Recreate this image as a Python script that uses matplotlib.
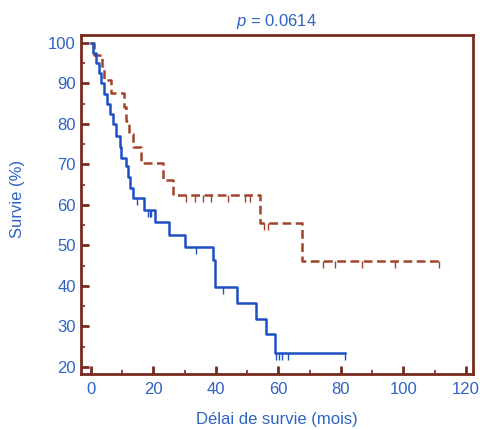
import numpy as np
import matplotlib
matplotlib.use("Agg")
import matplotlib.pyplot as plt
from matplotlib.ticker import MultipleLocator

# Kaplan-Meier curves (months, survival %)
blue_times = [0.8, 1.7, 2.6, 3.4, 4.3, 5.1, 6.0, 7.0, 8.2, 9.2, 9.8, 11.3, 12.0, 12.6,
              13.4, 17.0, 20.5, 25.1, 30.1, 39.1, 39.8, 46.8, 53.0, 55.9, 58.9]
blue_surv = [97.5, 95.0, 92.5, 90.0, 87.5, 85.0, 82.5, 80.0, 77.0, 74.4, 71.5, 69.5, 67.0,
             64.1, 61.6, 58.7, 55.8, 52.6, 49.7, 46.4, 39.8, 35.8, 31.9, 28.0, 23.4]
blue_end = 81.2
blue_censor = [14.8, 18.3, 18.9, 19.4, 33.8, 42.3, 59.3, 60.3, 61.3, 63.1, 81.2]

red_times = [1.0, 3.6, 4.2, 6.6, 10.5, 11.2, 12.3, 13.6, 16.0, 23.1, 26.3, 54.1, 67.6]
red_surv = [97.1, 93.9, 90.9, 87.6, 84.2, 80.8, 77.4, 74.2, 70.3, 66.2, 62.4, 55.6, 46.1]
red_end = 111.5
red_censor = [30.5, 33.3, 36.0, 38.5, 44.0, 49.3, 51.0, 55.3, 56.8, 74.3, 78.1, 86.6,
              97.3, 111.5]

p_text = "$p$ = 0.0614"

BLUE = "#1f4fc4"
RED = "#a3432b"
SPINE = "#7a2a1e"
TEXT = "#2f62c2"

plt.rcParams["font.family"] = ["Liberation Sans", "DejaVu Sans"]
plt.rcParams["mathtext.fontset"] = "custom"
plt.rcParams["mathtext.it"] = "Liberation Sans:italic"


def km_steps(times, surv, end):
    t = np.r_[0.0, times, end]
    s = np.r_[100.0, surv, surv[-1]]
    return t, s


def surv_at(times, surv, x):
    idx = np.searchsorted(times, x, side="right")
    s = np.r_[100.0, surv]
    return s[idx]


fig = plt.figure(figsize=(4.81, 4.30), dpi=100)
ax = fig.add_axes([0.168, 0.130, 0.815, 0.789])

t, s = km_steps(blue_times, blue_surv, blue_end)
ax.step(t, s, where="post", color=BLUE, lw=1.8, zorder=3)
ax.plot(blue_censor, surv_at(blue_times, blue_surv, blue_censor), ls="none",
        marker=3, ms=5, mew=1.0, color=BLUE, zorder=3)

t, s = km_steps(red_times, red_surv, red_end)
ax.step(t, s, where="post", color=RED, lw=1.8, ls=(0, (3.5, 1.8)), zorder=2)
ax.plot(red_censor, surv_at(red_times, red_surv, red_censor), ls="none",
        marker=3, ms=5, mew=1.0, color=RED, zorder=2)

ax.set_xlim(-3.2, 122.2)
ax.set_ylim(18.2, 102)
ax.xaxis.set_major_locator(MultipleLocator(20))
ax.xaxis.set_minor_locator(MultipleLocator(10))
ax.yaxis.set_major_locator(MultipleLocator(10))
ax.yaxis.set_minor_locator(MultipleLocator(5))
ax.tick_params(which="both", direction="in", color=SPINE, labelcolor=TEXT,
               labelsize=12, top=False, right=False)
ax.tick_params(which="major", length=6, width=2)
ax.tick_params(which="minor", length=3, width=1.2)
ax.tick_params(axis="x", pad=6)
for sp in ax.spines.values():
    sp.set_color(SPINE)
    sp.set_linewidth(2)

ax.set_xlabel("Délai de survie (mois)", color=TEXT, fontsize=12)
ax.set_ylabel("Survie (%)", color=TEXT, fontsize=12)
ax.xaxis.set_label_coords(0.5, -0.112)
ax.yaxis.set_label_coords(-0.143, 0.516)
ax.set_title(p_text, color=TEXT, fontsize=12, pad=6)

fig.savefig("out.png", dpi=100)
